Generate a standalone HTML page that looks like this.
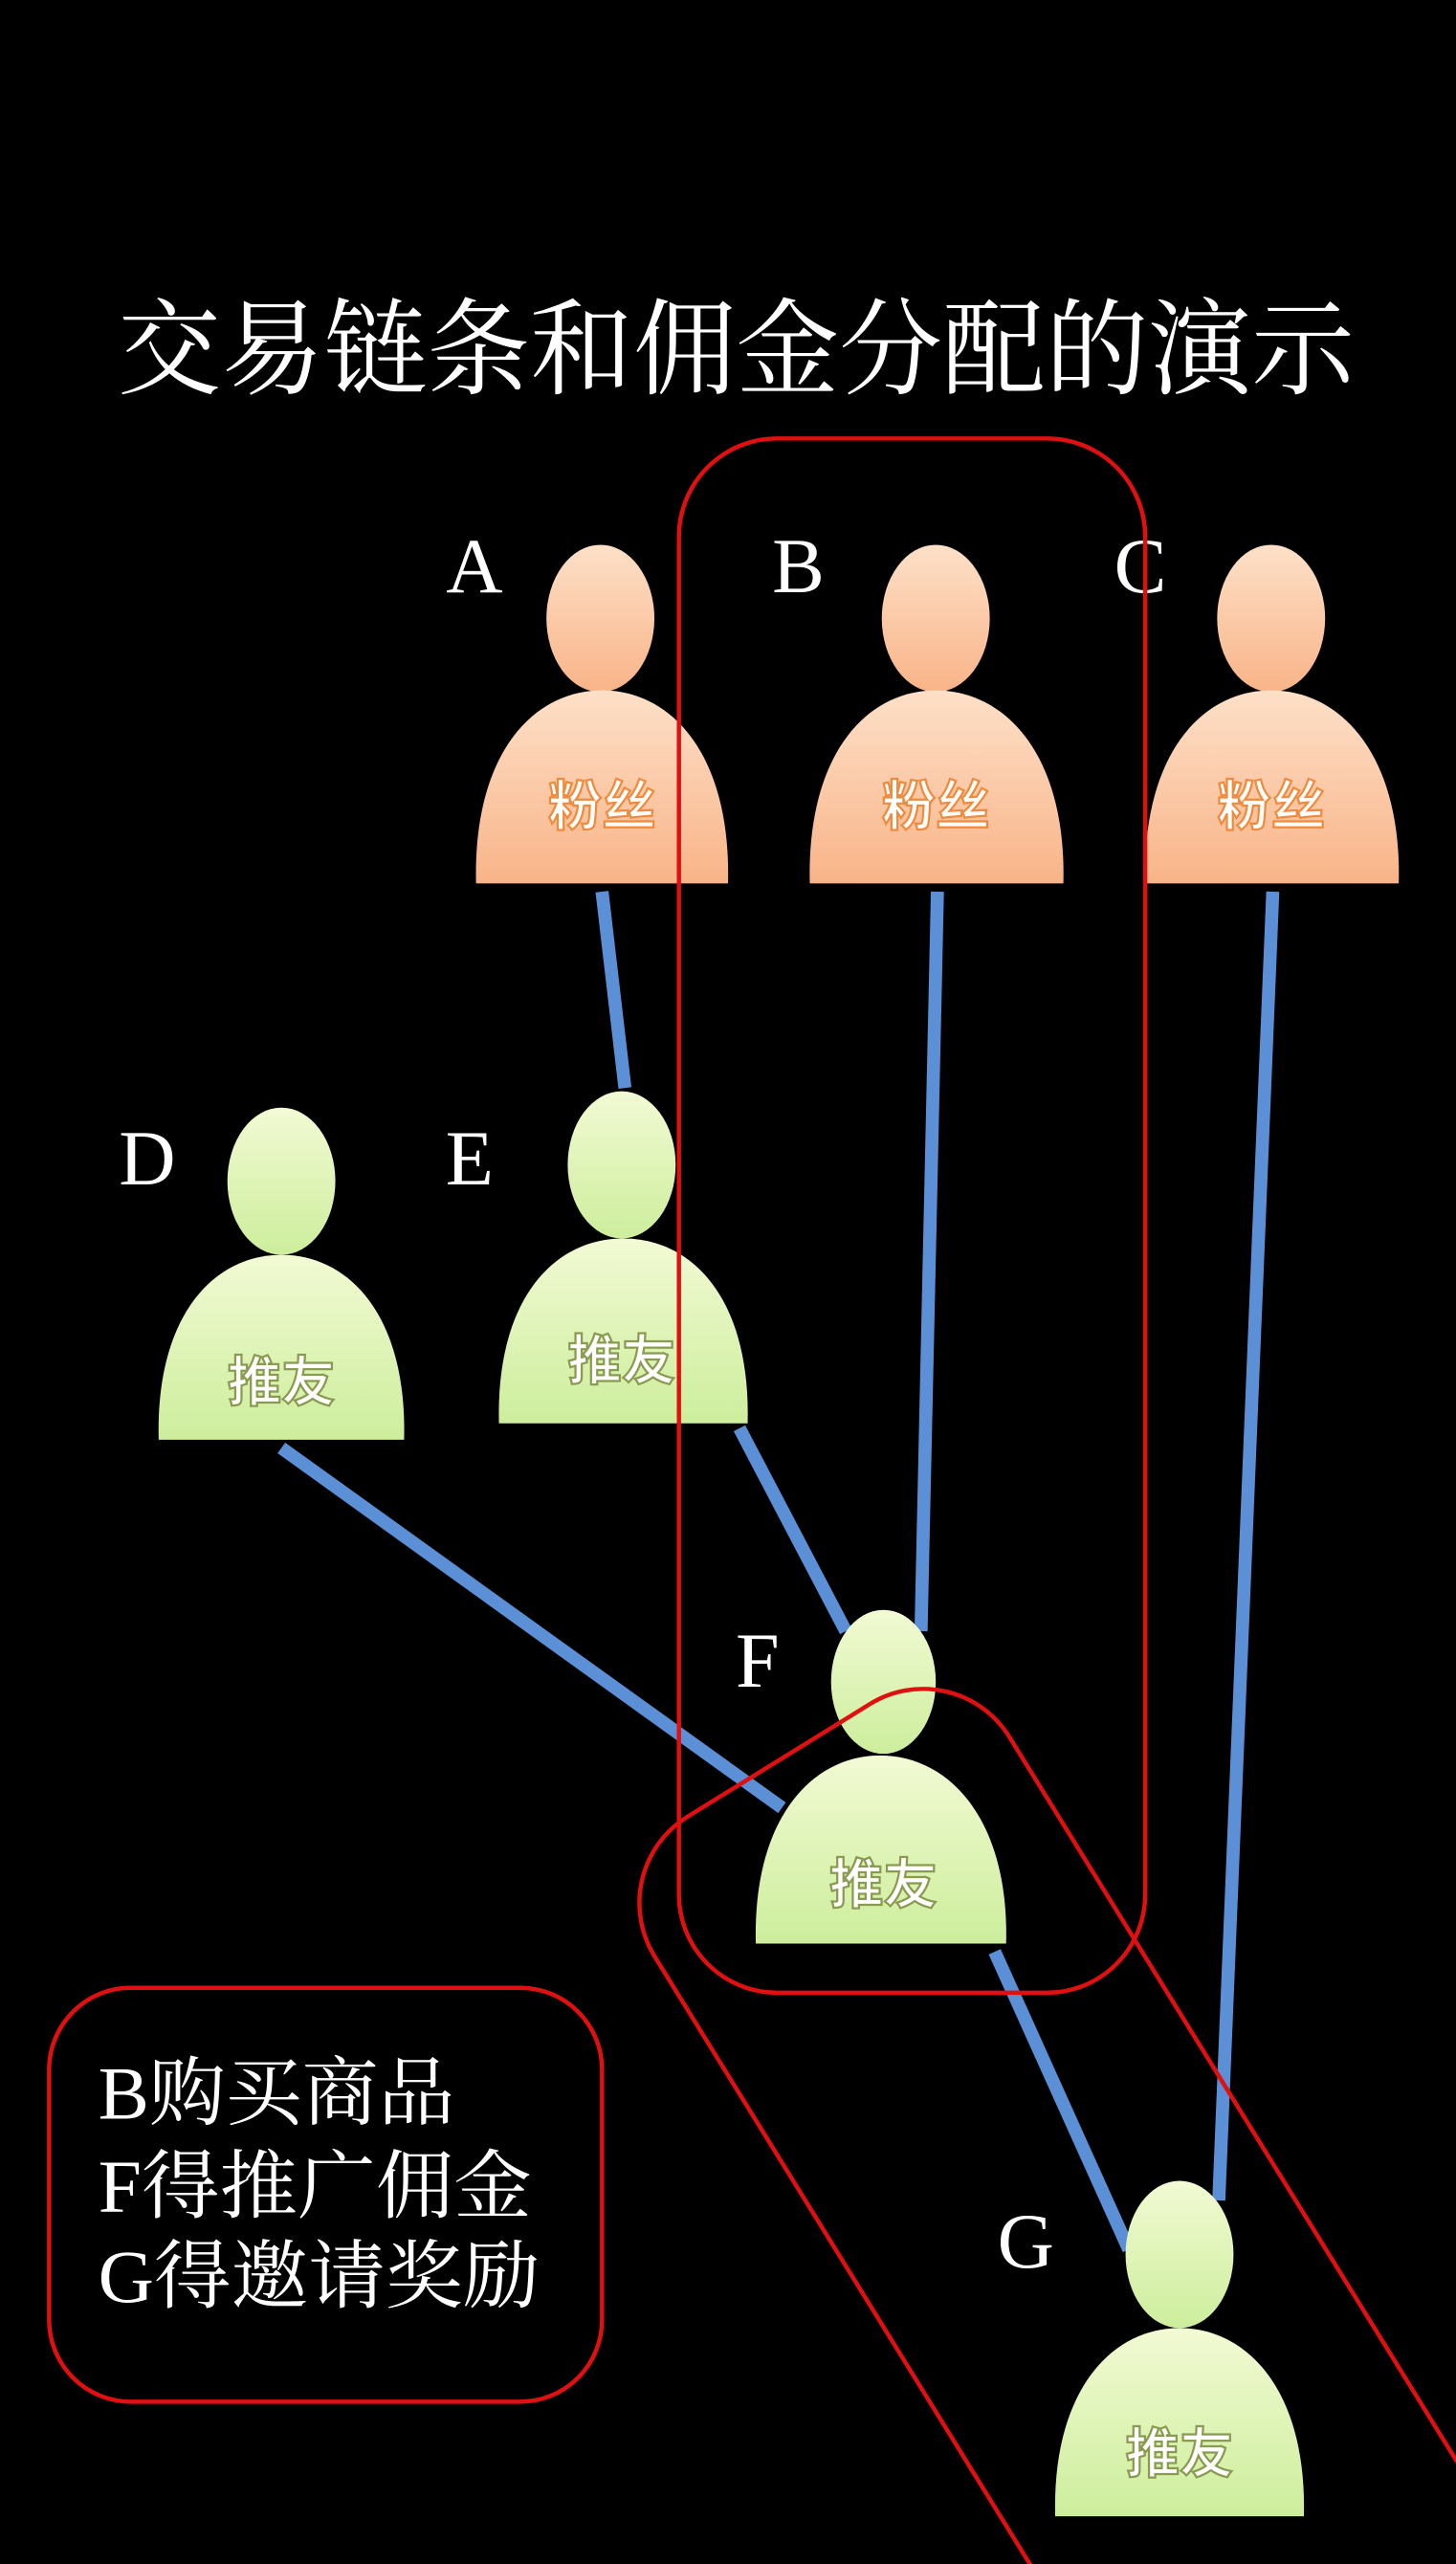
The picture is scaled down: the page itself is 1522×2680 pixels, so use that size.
<!DOCTYPE html>
<html><head><meta charset="utf-8"><style>
html,body{margin:0;padding:0;background:#000;overflow:hidden;width:1522px;height:2680px;}
svg{display:block;}
</style></head><body>
<svg width="1522" height="2680" viewBox="0 0 890 1567.2" preserveAspectRatio="none" xmlns="http://www.w3.org/2000/svg">
<defs>
<linearGradient id="og" x1="0" y1="0" x2="0" y2="1"><stop offset="0" stop-color="#fde0c8"/><stop offset="1" stop-color="#f9b488"/></linearGradient>
<linearGradient id="gg" x1="0" y1="0" x2="0" y2="1"><stop offset="0" stop-color="#f2fad4"/><stop offset="1" stop-color="#cdee9c"/></linearGradient>
</defs>
<rect width="890" height="1568" fill="#000"/>
<text x="450" y="236" text-anchor="middle" font-family="Liberation Serif, Noto Serif CJK SC, serif" font-size="64" fill="#fff" textLength="756" lengthAdjust="spacingAndGlyphs">交易链条和佣金分配的演示</text>

<g stroke="#5b8fd6" stroke-width="8" fill="none">
<line x1="368" y1="545" x2="382" y2="665"/>
<line x1="573" y1="545" x2="563" y2="997"/>
<line x1="778" y1="545" x2="745" y2="1345"/>
<line x1="172" y1="885" x2="478" y2="1105"/>
<line x1="452" y1="873" x2="517" y2="997"/>
<line x1="608" y1="1193" x2="690" y2="1375"/>
</g>

<g font-family="Liberation Serif, serif" font-size="48" fill="#fff" text-anchor="middle">
<text x="290" y="362">A</text><text x="488" y="362">B</text><text x="697" y="362">C</text>
<text x="90" y="724">D</text><text x="287" y="724">E</text><text x="463" y="1031">F</text><text x="627" y="1386">G</text>
</g>

<g font-family="Liberation Sans, Noto Sans CJK SC, sans-serif" font-size="33" font-weight="bold" text-anchor="middle" fill="#fff" stroke-width="1.3">
<ellipse cx="367" cy="378" rx="33" ry="45" fill="url(#og)"/>
<path d="M291,540 C289,462 325,422 368,422 C411,422 447,462 445,540 Z" fill="url(#og)"/>
<text x="368" y="504" stroke="#f08a3c">粉丝</text>
<ellipse cx="572" cy="378" rx="33" ry="45" fill="url(#og)"/>
<path d="M495,540 C493,462 529,422 572,422 C615,422 652,462 650,540 Z" fill="url(#og)"/>
<text x="572" y="504" stroke="#f08a3c">粉丝</text>
<ellipse cx="777" cy="378" rx="33" ry="45" fill="url(#og)"/>
<path d="M700,540 C698,462 734,422 777,422 C820,422 857,462 855,540 Z" fill="url(#og)"/>
<text x="777" y="504" stroke="#f08a3c">粉丝</text>

<ellipse cx="172" cy="722" rx="33" ry="45" fill="url(#gg)"/>
<path d="M97,880 C95,805 130,767 172,767 C214,767 249,805 247,880 Z" fill="url(#gg)"/>
<text x="172" y="856" stroke="#8a9a50">推友</text>
<ellipse cx="380" cy="712" rx="33" ry="45" fill="url(#gg)"/>
<path d="M305,870 C303,795 338,757 381,757 C424,757 459,795 457,870 Z" fill="url(#gg)"/>
<text x="380" y="843" stroke="#8a9a50">推友</text>
<ellipse cx="540" cy="1028" rx="32" ry="44" fill="url(#gg)"/>
<path d="M462,1188 C460,1112 496,1073 538,1073 C580,1073 617,1112 615,1188 Z" fill="url(#gg)"/>
<text x="540" y="1163" stroke="#8a9a50">推友</text>
<ellipse cx="721" cy="1378" rx="33" ry="45" fill="url(#gg)"/>
<path d="M645,1538 C643,1462 679,1423 721,1423 C763,1423 799,1462 797,1538 Z" fill="url(#gg)"/>
<text x="721" y="1511" stroke="#8a9a50">推友</text>
</g>

<g fill="none" stroke="#e01010" stroke-width="2.6">
<rect x="415" y="268" width="285" height="950" rx="60"/>
<rect x="-127.5" y="0" width="255" height="800" rx="62" transform="translate(476,1076) rotate(-31.7)"/>
<rect x="30" y="1215" width="338" height="253" rx="50"/>
</g>

<g font-family="Liberation Serif, Noto Serif CJK SC, serif" font-size="46" fill="#fff" lengthAdjust="spacingAndGlyphs">
<text x="60" y="1295" textLength="218" lengthAdjust="spacingAndGlyphs">B购买商品</text>
<text x="60" y="1352" textLength="265" lengthAdjust="spacingAndGlyphs">F得推广佣金</text>
<text x="60" y="1407" textLength="270" lengthAdjust="spacingAndGlyphs">G得邀请奖励</text>
</g>
</svg>
</body></html>
